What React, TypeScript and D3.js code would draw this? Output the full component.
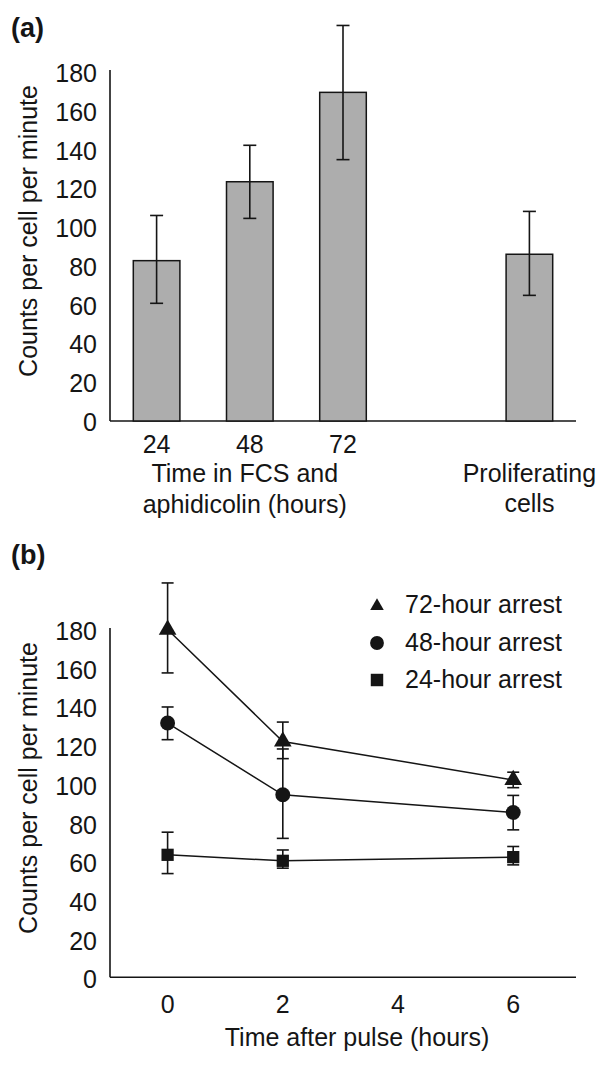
import React from "react";
import * as d3 from "d3";

// ---------- Panel (a) data ----------
const barSlots = ["24", "48", "72", "gap", "Proliferating cells"];
const barCategories = ["24", "48", "72", "Proliferating cells"];
const barValues = [82.7, 123.4, 169.5, 86];
const barErrLow = [60.7, 104.5, 134.8, 64.8];
const barErrHigh = [106, 142.2, 204, 108.1];
const yTicksA = [0, 20, 40, 60, 80, 100, 120, 140, 160, 180];

// ---------- Panel (b) data ----------
const times = [0, 2, 6];
const xTicksB = [0, 2, 4, 6];
const yTicksB = [0, 20, 40, 60, 80, 100, 120, 140, 160, 180];
const seriesNames = ["72-hour arrest", "48-hour arrest", "24-hour arrest"];
const seriesShapes = ["triangle", "circle", "square"];
const values72 = [179.7, 121.9, 102];
const low72 = [157.3, 113, 98];
const high72 = [203.8, 131.9, 106];
const values48 = [131.4, 94.3, 85.2];
const low48 = [122.8, 71.8, 76.2];
const high48 = [139.7, 118, 94];
const values24 = [63.3, 60.2, 62.1];
const low24 = [53.6, 56.4, 58.1];
const high24 = [75, 65.8, 67.6];

const FONT = "'Liberation Sans', Arial, sans-serif";
const INK = "#151515";

function Marker({ shape, x, y, s }: { shape: string; x: number; y: number; s: number }) {
  const sym =
    shape === "triangle" ? d3.symbolTriangle : shape === "circle" ? d3.symbolCircle : d3.symbolSquare;
  const path = d3.symbol().type(sym).size(s)();
  return <path d={path || ""} transform={`translate(${x},${y})`} fill={INK} />;
}

export default function App() {
  // Panel (a) scales
  const xA = d3.scaleBand<string>().domain(barSlots).range([110, 576]).paddingInner(0.5).paddingOuter(0.25);
  const yA = d3.scaleLinear().domain([0, 180]).range([421, 72]);
  const bw = xA.bandwidth();

  // Panel (b) scales
  const xB = d3.scaleLinear().domain([-1, 7.09]).range([110, 576]);
  const yB = d3.scaleLinear().domain([0, 180]).range([977.3, 629]);

  const seriesData = [
    { name: seriesNames[0], shape: seriesShapes[0], v: values72, lo: low72, hi: high72, size: 135 },
    { name: seriesNames[1], shape: seriesShapes[1], v: values48, lo: low48, hi: high48, size: 175 },
    { name: seriesNames[2], shape: seriesShapes[2], v: values24, lo: low24, hi: high24, size: 150 },
  ];
  const legendSizes = [80, 150, 155];

  const line = d3
    .line<number>()
    .x((_, i) => xB(times[i]))
    .y((d) => yB(d));

  const cap = 6.5;
  const capB = 6;

  return (
    <svg
      width={600}
      height={1090}
      style={{ position: "absolute", left: 0, top: 0, background: "#fff" }}
      fontFamily={FONT}
    >
      <rect x={0} y={0} width={600} height={1090} fill="#fff" />
      {/* ================= Panel (a) ================= */}
      <text x={11} y={37} fontSize={27} fontWeight="bold" fill={INK}>
        (a)
      </text>
      <line x1={110} x2={110} y1={70} y2={yA(0)} stroke={INK} strokeWidth={1.6} />
      <line x1={110} x2={576} y1={yA(0)} y2={yA(0)} stroke={INK} strokeWidth={1.6} />
      {yTicksA.map((t) => (
        <text key={t} x={97} y={yA(t) + 10} fontSize={25} textAnchor="end" fill={INK}>
          {t}
        </text>
      ))}
      <text transform={`translate(37,231) rotate(-90)`} fontSize={25} textAnchor="middle" fill={INK}>
        Counts per cell per minute
      </text>
      {barCategories.map((c, i) => {
        const x0 = xA(c) as number;
        const cx = x0 + bw / 2;
        return (
          <g key={c}>
            <rect
              x={x0}
              y={yA(barValues[i])}
              width={bw}
              height={yA(0) - yA(barValues[i])}
              fill="#adadad"
              stroke={INK}
              strokeWidth={1.5}
            />
            <line x1={cx} x2={cx} y1={yA(barErrHigh[i])} y2={yA(barErrLow[i])} stroke={INK} strokeWidth={1.6} />
            <line x1={cx - cap} x2={cx + cap} y1={yA(barErrHigh[i])} y2={yA(barErrHigh[i])} stroke={INK} strokeWidth={1.6} />
            <line x1={cx - cap} x2={cx + cap} y1={yA(barErrLow[i])} y2={yA(barErrLow[i])} stroke={INK} strokeWidth={1.6} />
          </g>
        );
      })}
      {barCategories.slice(0, 3).map((c) => (
        <text key={c} x={(xA(c) as number) + bw / 2} y={453} fontSize={25} textAnchor="middle" fill={INK}>
          {c}
        </text>
      ))}
      <text x={(xA("48") as number) + bw / 2 - 5} y={482} fontSize={25} textAnchor="middle" fill={INK}>
        Time in FCS and
      </text>
      <text x={(xA("48") as number) + bw / 2 - 5} y={512.5} fontSize={25} textAnchor="middle" fill={INK}>
        aphidicolin (hours)
      </text>
      <text x={(xA("Proliferating cells") as number) + bw / 2} y={482} fontSize={25} textAnchor="middle" fill={INK}>
        Proliferating
      </text>
      <text x={(xA("Proliferating cells") as number) + bw / 2} y={512} fontSize={25} textAnchor="middle" fill={INK}>
        cells
      </text>

      {/* ================= Panel (b) ================= */}
      <text x={11} y={564} fontSize={27} fontWeight="bold" fill={INK}>
        (b)
      </text>
      <line x1={110} x2={110} y1={628} y2={yB(0)} stroke={INK} strokeWidth={1.6} />
      <line x1={110} x2={576} y1={yB(0)} y2={yB(0)} stroke={INK} strokeWidth={1.6} />
      {yTicksB.map((t) => (
        <text key={t} x={97} y={yB(t) + 11} fontSize={25} textAnchor="end" fill={INK}>
          {t}
        </text>
      ))}
      {xTicksB.map((t) => (
        <text key={t} x={xB(t)} y={1013} fontSize={25} textAnchor="middle" fill={INK}>
          {t}
        </text>
      ))}
      <text transform={`translate(37,788) rotate(-90)`} fontSize={25} textAnchor="middle" fill={INK}>
        Counts per cell per minute
      </text>
      <text x={357} y={1046} fontSize={25} textAnchor="middle" fill={INK}>
        Time after pulse (hours)
      </text>
      {seriesData.map((s) => (
        <path key={s.name + "l"} d={line(s.v) || ""} fill="none" stroke={INK} strokeWidth={1.5} />
      ))}
      {seriesData.map((s) =>
        times.map((t, i) => {
          const cx = xB(t);
          return (
            <g key={s.name + t}>
              <line x1={cx} x2={cx} y1={yB(s.hi[i])} y2={yB(s.lo[i])} stroke={INK} strokeWidth={1.6} />
              <line x1={cx - capB} x2={cx + capB} y1={yB(s.hi[i])} y2={yB(s.hi[i])} stroke={INK} strokeWidth={1.6} />
              <line x1={cx - capB} x2={cx + capB} y1={yB(s.lo[i])} y2={yB(s.lo[i])} stroke={INK} strokeWidth={1.6} />
            </g>
          );
        })
      )}
      {seriesData.map((s) =>
        times.map((t, i) => <Marker key={s.name + "m" + t} shape={s.shape} x={xB(t)} y={yB(s.v[i])} s={s.size} />)
      )}
      {seriesData.map((s, i) => (
        <g key={s.name + "lg"}>
          <Marker shape={s.shape} x={377} y={606 + i * 37} s={legendSizes[i]} />
          <text x={405} y={613 + i * 37.5} fontSize={25} fill={INK}>
            {s.name}
          </text>
        </g>
      ))}
    </svg>
  );
}
